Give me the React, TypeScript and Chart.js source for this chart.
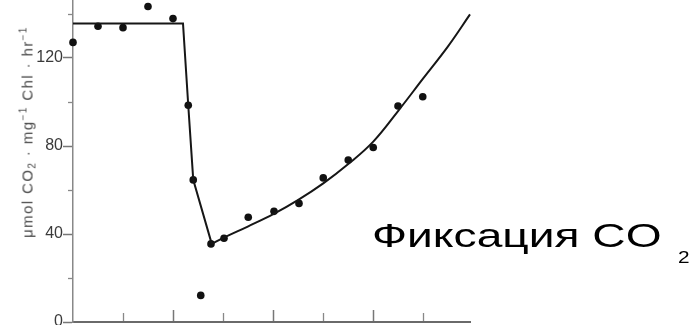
import React, { useEffect, useRef } from "react";
import { Chart, registerables } from "chart.js";

Chart.register(...registerables);

// measured points: time (min) vs CO2 fixation rate
const timeMin = [0, 1, 2, 3, 4, 4.61, 4.81, 5.11, 5.52, 6.04, 7.01, 8.04, 9.04, 10.01, 11.01, 12.01, 13, 13.99];
const co2Rate = [127.1, 134.4, 133.8, 143.4, 137.9, 98.5, 64.6, 12.1, 35.5, 38.1, 47.6, 50.3, 53.9, 65.5, 73.6, 79.3, 98.2, 102.4];

// fitted curve: plateau and drop (straight segments)
const fitDropX = [0, 4.4, 4.61, 4.81, 5.55];
const fitDropY = [135.7, 135.7, 98.5, 64.6, 35.5];
// fitted curve: recovery (smooth)
const fitRiseX = [5.55, 6.01, 7.01, 8.01, 9.01, 10.01, 11.01, 12.01, 13.01, 14.0, 15.0, 15.88];
const fitRiseY = [35.5, 38.2, 43.5, 49.0, 55.5, 63.0, 71.8, 82.0, 96.0, 110.6, 125.3, 139.8];

const yMajorTicks = [0, 40, 80, 120];
const yMinorTicks = [20, 60, 100, 140];
const xMajorTicks = [4, 8, 12];
const xMinorTicks = [2, 6, 10, 14];

const X_MIN = 0;
const X_MAX = 15.88;
const Y_MIN = 0;
const Y_MAX = 150;

const axisTitleParts = { main: "μmol CO", sub: "2", mid: " · mg", sup1: "−1", mid2: " Chl · hr", sup2: "−1" };
const captionText = "Фиксация CO";
const captionSub = "2";

export default function App() {
  const ref = useRef<HTMLCanvasElement>(null);

  useEffect(() => {
    const canvas = ref.current!;
    const font = "'Liberation Sans', Arial, sans-serif";
    const chart = new Chart(canvas, {
      type: "scatter",
      data: {
        datasets: [
          {
            type: "line",
            data: fitDropX.map((x, i) => ({ x, y: fitDropY[i] })),
            borderColor: "#161616",
            borderWidth: 2,
            pointRadius: 0,
            tension: 0,
            clip: false,
          } as any,
          {
            type: "line",
            data: fitRiseX.map((x, i) => ({ x, y: fitRiseY[i] })),
            borderColor: "#161616",
            borderWidth: 2,
            pointRadius: 0,
            tension: 0.4,
            clip: false,
          } as any,
          {
            type: "scatter",
            data: timeMin.map((x, i) => ({ x, y: co2Rate[i] })),
            backgroundColor: "#111",
            borderColor: "#111",
            borderWidth: 0,
            pointRadius: 3.8,
            clip: false,
          } as any,
        ],
      },
      options: {
        responsive: false,
        animation: false,
        events: [],
        layout: { padding: { left: 0, top: 12, right: 220, bottom: 0 } },
        plugins: { legend: { display: false }, tooltip: { enabled: false } },
        scales: {
          x: {
            type: "linear",
            position: "bottom",
            weight: 1,
            min: X_MIN,
            max: X_MAX,
            afterBuildTicks: (s: any) => {
              s.ticks = xMajorTicks.map((v) => ({ value: v }));
            },
            afterFit: (s: any) => {
              s.height = 28;
            },
            ticks: { display: false },
            grid: { drawOnChartArea: false, drawTicks: true, tickLength: -12, tickColor: "#777", tickWidth: 1.5 },
            border: { display: true, color: "#6a6a6a", width: 2 },
          },
          xMinor: {
            type: "linear",
            position: "bottom",
            weight: 0,
            min: X_MIN,
            max: X_MAX,
            afterBuildTicks: (s: any) => {
              s.ticks = xMinorTicks.map((v) => ({ value: v }));
            },
            afterFit: (s: any) => {
              s.height = 0;
            },
            ticks: { display: false },
            grid: { drawOnChartArea: false, drawTicks: true, tickLength: -9, tickColor: "#888", tickWidth: 1.3 },
            border: { display: false },
          },
          y: {
            type: "linear",
            position: "left",
            weight: 1,
            min: Y_MIN,
            max: Y_MAX,
            afterBuildTicks: (s: any) => {
              s.ticks = yMajorTicks.map((v) => ({ value: v }));
            },
            afterFit: (s: any) => {
              s.width = 73;
            },
            ticks: { padding: 0, color: "#3a3a3a", font: { family: font, size: 16 } },
            grid: { drawOnChartArea: false, drawTicks: true, tickLength: 10, tickColor: "#777", tickWidth: 1.5 },
            border: { display: true, color: "#888", width: 1.5 },
          },
          yMinor: {
            type: "linear",
            position: "left",
            weight: 0,
            min: Y_MIN,
            max: Y_MAX,
            afterBuildTicks: (s: any) => {
              s.ticks = yMinorTicks.map((v) => ({ value: v }));
            },
            afterFit: (s: any) => {
              s.width = 0;
            },
            ticks: { display: false },
            grid: { drawOnChartArea: false, drawTicks: true, tickLength: 5, tickColor: "#888", tickWidth: 1.3 },
            border: { display: false },
          },
        },
      } as any,
    });
    return () => chart.destroy();
  }, []);

  return (
    <div style={{ position: "fixed", left: 0, top: 0, width: 690, height: 325, overflow: "hidden", background: "#fff" }}>
      <canvas
        ref={ref}
        width={690}
        height={370}
        style={{ position: "absolute", left: 0, top: -20, width: 690, height: 370 }}
      />
      <div
        style={{
          position: "absolute",
          left: 28,
          top: 132,
          transform: "translate(-50%, -50%) rotate(-90deg)",
          whiteSpace: "nowrap",
          fontFamily: "'Liberation Sans', Arial, sans-serif",
          fontSize: 15,
          letterSpacing: 1.4,
          color: "#4a4a4a",
          lineHeight: 1,
        }}
      >
        {axisTitleParts.main}
        <span style={{ fontSize: 10, verticalAlign: -3 }}>{axisTitleParts.sub}</span>
        {axisTitleParts.mid}
        <span style={{ fontSize: 10, verticalAlign: 6 }}>{axisTitleParts.sup1}</span>
        {axisTitleParts.mid2}
        <span style={{ fontSize: 10, verticalAlign: 6 }}>{axisTitleParts.sup2}</span>
      </div>
      <div
        style={{
          position: "absolute",
          left: 372,
          top: 220,
          transform: "scaleX(1.42)",
          transformOrigin: "0 0",
          whiteSpace: "nowrap",
          fontFamily: "'Liberation Sans', Arial, sans-serif",
          fontSize: 32.5,
          lineHeight: 1,
          color: "#000",
        }}
      >
        {captionText}
      </div>
      <div
        style={{
          position: "absolute",
          left: 678,
          top: 250,
          transform: "scaleX(1.3)",
          transformOrigin: "0 0",
          whiteSpace: "nowrap",
          fontFamily: "'Liberation Sans', Arial, sans-serif",
          fontSize: 16,
          lineHeight: 1,
          color: "#000",
        }}
      >
        {captionSub}
      </div>
    </div>
  );
}
